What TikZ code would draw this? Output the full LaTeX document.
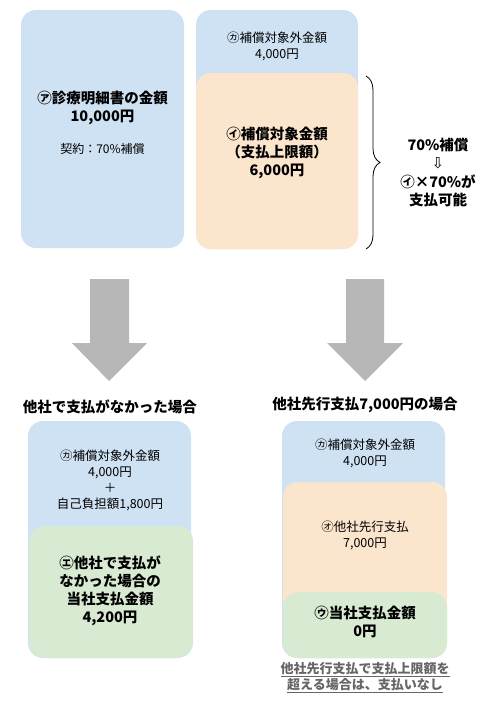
\documentclass[tikz,border=0pt]{standalone}
\usepackage{fontspec}
\setmainfont{Noto Sans CJK JP}
\newfontfamily\dejavu{DejaVu Sans}
\usetikzlibrary{decorations.pathreplacing}
\definecolor{cblue}{HTML}{CFE2F3}
\definecolor{corange}{HTML}{FCE5CD}
\definecolor{cgreen}{HTML}{D9EAD3}
\definecolor{carrow}{HTML}{B7B7B7}
\definecolor{cnote}{HTML}{666666}
\begin{document}
\begin{tikzpicture}[x=1pt,y=-1pt,
  rbox/.style={rounded corners=15pt},
  txt/.style={align=center, inner sep=0pt, text=black},
  big/.style={txt, font=\bfseries\fontsize{14.5}{18}\selectfont},
  mid/.style={txt, font=\fontsize{12.5}{16}\selectfont},
  ttl/.style={txt, font=\bfseries\fontsize{14.5}{18}\selectfont},
  note/.style={txt, text=cnote, font=\bfseries\fontsize{13}{16}\selectfont},
  bigarrow/.style={fill=carrow}]
\useasboundingbox (0,0) rectangle (495,709);

% top left box
\fill[cblue, rbox] (21,10) rectangle (184,248);
\node[big] (a1) at (102.5,108) {㋐診療明細書の金額\\10,000円};
\node[mid, font=\fontsize{12}{15}\selectfont] (a2) at (102.5,149) {契約：70\%補償};

% top right boxes
\fill[cblue, rbox] (196,10) rectangle (358,249);
\fill[corange, rbox] (196,73) rectangle (358,249);
\node[mid] (k1) at (277,46.5) {㋕補償対象外金額\\4,000円};
\node[big] (i1) at (277,153) {㋑補償対象金額\\（支払上限額）\\6,000円};

% brace
\coordinate (bt) at (366,76);
\coordinate (bb) at (366,249);
\draw[decorate, decoration={brace, amplitude=14pt}, line width=0.8pt] (bt) -- (bb);

\node[big] (r1) at (438,145) {70\%補償};
\node[txt, font=\dejavu\fontsize{15}{17}\selectfont] (r2) at (438,163) {⇩};
\node[big] (r3) at (438,190.5) {㋑×70\%が\\支払可能};

% big arrows
\fill[bigarrow] (90,279) -- (129,279) -- (129,343) -- (147,343) -- (109,381) -- (72,343) -- (90,343) -- cycle;
\fill[bigarrow] (346,279) -- (384,279) -- (384,343) -- (403,343) -- (365,381) -- (327,343) -- (346,343) -- cycle;

% bottom left
\node[ttl] (t1) at (110,407) {他社で支払がなかった場合};
\fill[cblue, rbox] (28,421) rectangle (191,658);
\fill[cgreen, rbox] (29,526) rectangle (193,658);
\node[mid] (l1) at (110,480) {㋕補償対象外金額\\4,000円\\＋\\自己負担額1,800円};
\node[big] (l2) at (110,590.5) {㋓他社で支払が\\なかった場合の\\当社支払金額\\4,200円};

% bottom right
\node[ttl] (t2) at (365,405) {他社先行支払7,000円の場合};
\fill[cblue, rbox] (282,421) rectangle (445,658);
\fill[corange, rbox] (283,482) rectangle (447,658);
\fill[cgreen, rbox] (283,592) rectangle (447,658);
\node[mid] (m1) at (365,453.5) {㋕補償対象外金額\\4,000円};
\node[mid] (m2) at (365,535) {㋔他社先行支払\\7,000円};
\node[big] (m3) at (365,622) {㋒当社支払金額\\0円};
\node[note] (n1) at (365,678) {\underline{他社先行支払で支払上限額を}\\\underline{超える場合は、支払いなし}};
\end{tikzpicture}
\end{document}
